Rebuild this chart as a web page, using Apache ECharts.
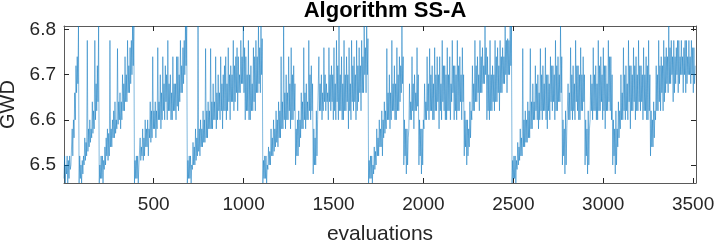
<!DOCTYPE html>
<html>
<head>
<meta charset="utf-8">
<script src="https://cdn.jsdelivr.net/npm/echarts@6/dist/echarts.min.js"></script>
<style>
html,body{margin:0;padding:0;background:#fff;}
#chart{width:714px;height:248px;}
</style>
</head>
<body>
<div id="chart"></div>
<script>
// GWD values, one value every 3.5 evaluations (4 values per ~2.5 px column)
const gwd = [
6.47,6.52,6.46,6.50, 6.48,6.52,6.46,6.51, 6.47,6.52,6.49,6.50, 6.50,6.58,6.52,6.60,
6.56,6.66,6.60,6.72, 6.66,6.74,6.68,6.808,
6.46,6.52,6.47,6.50, 6.46,6.51,6.48,6.52, 6.50,6.56,6.51,6.55, 6.52,6.776,6.53,6.58,
6.54,6.60,6.55,6.58, 6.56,6.64,6.57,6.62, 6.58,6.776,6.60,6.68, 6.62,6.72,6.64,6.808,
6.46,6.50,6.47,6.52, 6.47,6.52,6.46,6.51, 6.49,6.54,6.50,6.56, 6.52,6.58,6.51,6.57,
6.52,6.776,6.54,6.58, 6.54,6.60,6.56,6.62, 6.56,6.64,6.57,6.60, 6.58,6.758,6.59,6.64,
6.60,6.66,6.58,6.64, 6.60,6.70,6.62,6.68, 6.62,6.74,6.64,6.70, 6.64,6.776,6.66,6.72,
6.66,6.76,6.68,6.776, 6.70,6.808,6.72,6.808,
6.46,6.51,6.47,6.52, 6.47,6.52,6.46,6.50, 6.50,6.56,6.51,6.54, 6.52,6.58,6.51,6.56,
6.52,6.60,6.54,6.58, 6.54,6.60,6.52,6.58, 6.56,6.64,6.55,6.62, 6.56,6.74,6.58,6.62,
6.58,6.64,6.56,6.62, 6.58,6.76,6.60,6.64, 6.60,6.70,6.58,6.66, 6.60,6.74,6.62,6.68,
6.60,6.72,6.64,6.70, 6.60,6.776,6.62,6.68, 6.62,6.70,6.60,6.66, 6.60,6.74,6.62,6.68,
6.62,6.68,6.60,6.74, 6.63,6.74,6.62,6.70, 6.64,6.776,6.66,6.72, 6.66,6.76,6.68,6.776,
6.70,6.808,6.72,6.808,
6.46,6.51,6.47,6.52, 6.47,6.52,6.46,6.50, 6.49,6.55,6.50,6.54, 6.50,6.58,6.51,6.56,
6.52,6.808,6.53,6.58, 6.52,6.60,6.54,6.58, 6.54,6.62,6.55,6.60, 6.55,6.758,6.56,6.62,
6.56,6.64,6.58,6.62, 6.58,6.758,6.58,6.64, 6.58,6.68,6.60,6.64, 6.60,6.74,6.58,6.66,
6.60,6.70,6.62,6.66, 6.60,6.74,6.62,6.68, 6.58,6.70,6.62,6.72, 6.62,6.74,6.60,6.68,
6.62,6.76,6.64,6.70, 6.60,6.72,6.64,6.70, 6.64,6.776,6.62,6.72, 6.64,6.74,6.66,6.76,
6.62,6.74,6.66,6.70, 6.66,6.776,6.68,6.74, 6.68,6.808,6.66,6.76, 6.60,6.74,6.62,6.70,
6.62,6.776,6.60,6.70, 6.60,6.72,6.62,6.68, 6.62,6.76,6.64,6.74, 6.62,6.776,6.66,6.74,
6.66,6.808,6.68,6.76, 6.66,6.808,6.70,6.78,
6.46,6.51,6.47,6.52, 6.47,6.52,6.46,6.50, 6.49,6.54,6.50,6.53, 6.50,6.58,6.52,6.56,
6.52,6.60,6.53,6.58, 6.54,6.62,6.55,6.60, 6.54,6.64,6.56,6.62, 6.56,6.74,6.58,6.64,
6.58,6.808,6.60,6.66, 6.58,6.70,6.60,6.66, 6.60,6.74,6.62,6.68, 6.58,6.76,6.60,6.70,
6.60,6.72,6.62,6.68, 6.50,6.58,6.52,6.60, 6.52,6.62,6.54,6.60, 6.56,6.66,6.58,6.64,
6.58,6.76,6.60,6.66, 6.58,6.68,6.60,6.64, 6.60,6.776,6.62,6.70, 6.60,6.72,6.62,6.68,
6.48,6.58,6.50,6.56, 6.50,6.62,6.52,6.60, 6.60,6.74,6.62,6.68, 6.62,6.70,6.60,6.66,
6.62,6.76,6.64,6.70, 6.62,6.68,6.64,6.66, 6.60,6.76,6.64,6.70, 6.62,6.72,6.64,6.70,
6.60,6.76,6.62,6.68, 6.60,6.776,6.64,6.72, 6.60,6.808,6.62,6.70, 6.62,6.74,6.60,6.68,
6.60,6.776,6.62,6.70, 6.62,6.74,6.64,6.70, 6.58,6.76,6.62,6.68, 6.60,6.776,6.64,6.72,
6.62,6.74,6.64,6.70, 6.60,6.776,6.62,6.72, 6.64,6.76,6.66,6.72, 6.62,6.776,6.66,6.74,
6.66,6.808,6.70,6.76, 6.66,6.808,6.70,6.78,
6.46,6.51,6.47,6.52, 6.47,6.52,6.46,6.50, 6.48,6.54,6.49,6.53, 6.50,6.58,6.52,6.56,
6.52,6.60,6.54,6.58, 6.54,6.62,6.52,6.60, 6.56,6.64,6.57,6.62, 6.58,6.758,6.60,6.66,
6.60,6.70,6.58,6.66, 6.60,6.776,6.62,6.68, 6.62,6.72,6.60,6.68, 6.60,6.76,6.62,6.70,
6.62,6.74,6.64,6.72, 6.66,6.808,6.68,6.74, 6.50,6.60,6.52,6.58, 6.48,6.58,6.50,6.56,
6.58,6.68,6.60,6.64, 6.60,6.74,6.62,6.68, 6.58,6.70,6.62,6.66, 6.62,6.76,6.63,6.70,
6.50,6.60,6.52,6.58, 6.48,6.58,6.50,6.60, 6.58,6.68,6.60,6.64, 6.60,6.74,6.62,6.68,
6.60,6.758,6.62,6.70, 6.62,6.72,6.60,6.68, 6.60,6.76,6.62,6.70, 6.62,6.74,6.64,6.70,
6.58,6.74,6.62,6.68, 6.60,6.776,6.64,6.72, 6.62,6.72,6.60,6.70, 6.60,6.76,6.62,6.70,
6.62,6.74,6.60,6.68, 6.64,6.776,6.66,6.72, 6.60,6.72,6.62,6.70, 6.60,6.776,6.62,6.72,
6.62,6.74,6.64,6.70, 6.60,6.76,6.64,6.70, 6.52,6.62,6.54,6.60, 6.50,6.60,6.52,6.58,
6.54,6.64,6.56,6.62, 6.60,6.72,6.62,6.68, 6.62,6.776,6.64,6.72, 6.64,6.74,6.66,6.70,
6.62,6.776,6.66,6.74, 6.66,6.76,6.68,6.72, 6.68,6.808,6.70,6.76, 6.60,6.74,6.62,6.70,
6.60,6.776,6.62,6.70, 6.62,6.72,6.64,6.70, 6.62,6.776,6.64,6.74, 6.64,6.76,6.66,6.72,
6.62,6.776,6.66,6.74, 6.66,6.76,6.68,6.74, 6.68,6.808,6.70,6.776, 6.66,6.78,6.70,6.776,
6.70,6.808,6.72,6.808,
6.46,6.51,6.47,6.52, 6.47,6.52,6.46,6.51, 6.49,6.55,6.50,6.54, 6.51,6.58,6.52,6.56,
6.52,6.758,6.54,6.60, 6.54,6.62,6.55,6.60, 6.55,6.64,6.56,6.62, 6.56,6.758,6.58,6.64,
6.58,6.68,6.60,6.64, 6.60,6.72,6.62,6.68, 6.60,6.70,6.58,6.66, 6.60,6.758,6.62,6.70,
6.60,6.72,6.62,6.68, 6.62,6.76,6.60,6.70, 6.58,6.70,6.62,6.68, 6.60,6.74,6.64,6.72,
6.62,6.72,6.64,6.70, 6.60,6.776,6.62,6.72, 6.62,6.74,6.64,6.70, 6.64,6.808,6.66,6.74,
6.50,6.60,6.52,6.58, 6.48,6.62,6.50,6.58, 6.58,6.68,6.60,6.66, 6.60,6.76,6.62,6.70,
6.60,6.72,6.62,6.68, 6.60,6.776,6.64,6.72, 6.62,6.72,6.60,6.70, 6.60,6.76,6.62,6.70,
6.62,6.74,6.64,6.70, 6.50,6.60,6.52,6.58, 6.48,6.62,6.50,6.58, 6.60,6.70,6.62,6.68,
6.60,6.76,6.62,6.70, 6.62,6.72,6.60,6.68, 6.60,6.776,6.62,6.72, 6.62,6.74,6.64,6.70,
6.60,6.76,6.62,6.72, 6.58,6.72,6.62,6.68, 6.62,6.776,6.64,6.74, 6.62,6.74,6.60,6.70,
6.50,6.60,6.52,6.58, 6.48,6.62,6.50,6.58, 6.54,6.64,6.56,6.62, 6.58,6.70,6.60,6.66,
6.60,6.76,6.62,6.70, 6.60,6.72,6.62,6.68, 6.60,6.776,6.64,6.72, 6.58,6.72,6.62,6.70,
6.62,6.76,6.64,6.72, 6.60,6.74,6.62,6.70, 6.62,6.776,6.64,6.72, 6.62,6.72,6.64,6.70,
6.60,6.76,6.62,6.70, 6.62,6.74,6.60,6.72, 6.60,6.776,6.62,6.70, 6.52,6.62,6.54,6.60,
6.54,6.64,6.56,6.62, 6.60,6.72,6.62,6.70, 6.62,6.776,6.64,6.72, 6.62,6.74,6.66,6.72,
6.62,6.776,6.64,6.74, 6.66,6.76,6.68,6.74, 6.66,6.808,6.68,6.76, 6.68,6.776,6.70,6.74,
6.64,6.776,6.66,6.74, 6.68,6.76,6.70,6.776, 6.66,6.776,6.68,6.74, 6.70,6.776,6.70,6.74,
6.66,6.76,6.70,6.776, 6.66,6.776,6.68,6.74, 6.70,6.776,6.70,6.74, 6.68,6.776,6.70,6.76,
6.66,6.76,6.68,6.72
];
const evalStep = 3.5;
const xTicks = [500, 1000, 1500, 2000, 2500, 3000, 3500];
const yTicks = [6.5, 6.6, 6.7, 6.8];

const points = gwd.map((v, i) => [1 + i * evalStep, v]);

const chart = echarts.init(document.getElementById('chart'), null, {renderer: 'canvas'});
const axisColor = '#262626';
const font = 'Liberation Sans, Arial, Helvetica, sans-serif';
const baseX = {
  type: 'value', min: 1, max: 3516,
  splitLine: {show: false},
  axisLine: {show: true, onZero: false, lineStyle: {color: '#5a5a5a', width: 1}},
  axisTick: {show: true, inside: true, length: 5, customValues: xTicks, lineStyle: {color: axisColor}},
};
const baseY = {
  type: 'value', min: 6.46, max: 6.808,
  splitLine: {show: false},
  axisLine: {show: true, onZero: false, lineStyle: {color: '#5a5a5a', width: 1}},
  axisTick: {show: true, inside: true, length: 5, customValues: yTicks, lineStyle: {color: axisColor}},
};
chart.setOption({
  animation: false,
  title: {
    text: 'Algorithm SS-A', left: 380, top: -5, textAlign: 'center',
    textStyle: {fontFamily: font, fontWeight: 'bold', fontSize: 22, color: '#000'}
  },
  grid: {left: 64, right: 18, top: 26, bottom: 65, containLabel: false, outerBoundsMode: 'none'},
  xAxis: [
    Object.assign({}, baseX, {
      position: 'bottom',
      name: 'evaluations', nameLocation: 'middle', nameGap: 41,
      nameTextStyle: {fontFamily: font, fontSize: 21, color: axisColor},
      axisLabel: {show: true, customValues: xTicks, margin: 12, fontFamily: font, fontSize: 19, color: axisColor,
        formatter: v => String(v)}
    }),
    Object.assign({}, baseX, {position: 'top', axisLabel: {show: false}})
  ],
  yAxis: [
    Object.assign({}, baseY, {
      position: 'left',
      name: 'GWD', nameLocation: 'middle', nameGap: 45, nameRotate: 90,
      nameTextStyle: {fontFamily: font, fontSize: 20, color: axisColor},
      axisLabel: {show: true, customValues: yTicks, margin: 8, fontFamily: font, fontSize: 19, color: axisColor,
        formatter: v => v.toFixed(1)}
    }),
    Object.assign({}, baseY, {position: 'right', axisLabel: {show: false}})
  ],
  series: [{
    type: 'line', data: points, xAxisIndex: 0, yAxisIndex: 0,
    showSymbol: false, symbol: 'none', sampling: null,
    lineStyle: {color: '#0072BD', width: 0.5},
    clip: true
  }]
});
</script>
</body>
</html>
